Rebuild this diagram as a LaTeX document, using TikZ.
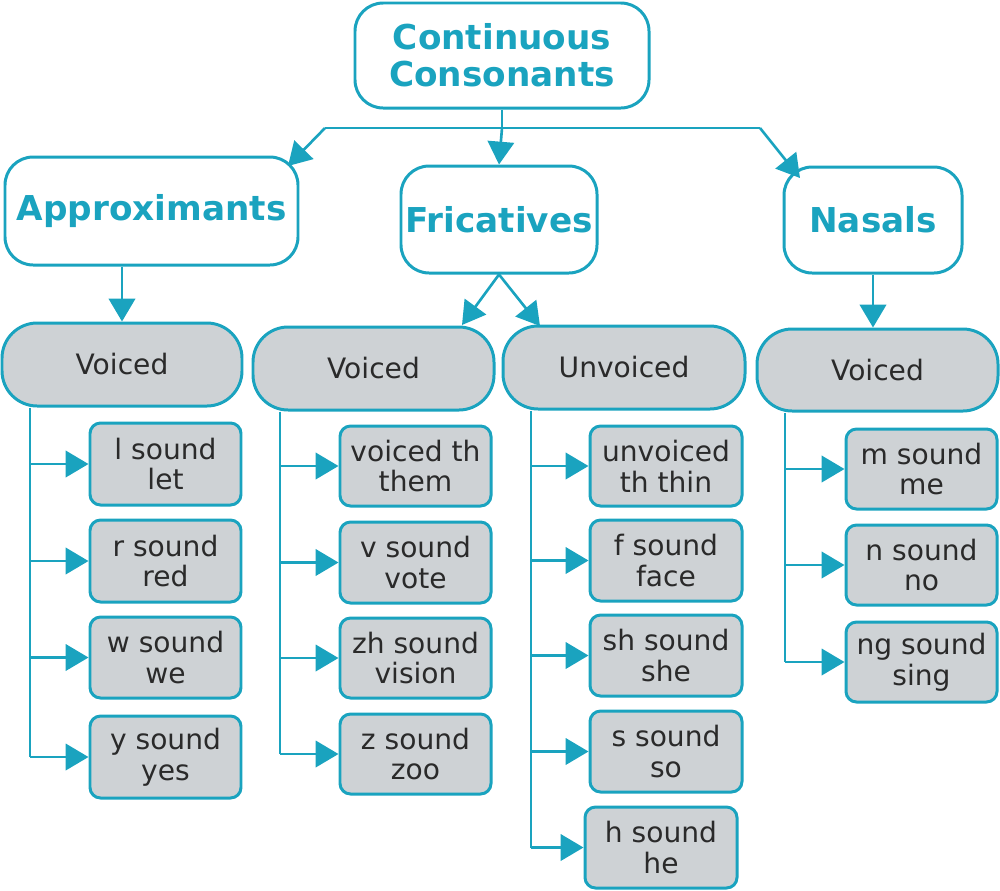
\documentclass[tikz,border=0pt]{standalone}
\usepackage{fontspec}
\setmainfont{DejaVu Sans}
\usetikzlibrary{arrows.meta}
\definecolor{tl}{HTML}{1AA3BF}
\definecolor{gr}{HTML}{CED2D5}
\definecolor{tx}{HTML}{2A2A2A}
\begin{document}
\begin{tikzpicture}[x=0.02cm,y=-0.02cm,
  base/.style={draw=tl,line width=1.7pt,inner sep=0pt,align=center},
  top/.style={base,fill=white,rounded corners=16pt,text=tl,font=\fontsize{19.5}{21}\selectfont\bfseries},
  mid/.style={base,fill=gr,rounded corners=20pt,text=tx,font=\fontsize{16}{18}\selectfont},
  leaf/.style={base,fill=gr,rounded corners=6pt,text=tx,font=\fontsize{16}{17.5}\selectfont},
  ln/.style={draw=tl,line width=1.5pt},
  ar/.style={ln,-{Triangle[length=13pt,width=15pt]}}]
\useasboundingbox (0,0) rectangle (1000,890);
\newcommand\bx[7]{\node[#6,minimum width={(#4-#2)*0.02cm},minimum height={(#5-#3)*0.02cm}] (#1) at ({(#2+#4)/2},{(#3+#5)/2}) {#7};}
\bx{t}{355}{3}{649}{108}{top}{Continuous\\Consonants}
\bx{A}{5}{157}{298}{265}{top}{Approximants}
\bx{F}{401}{166}{597}{273}{top}{Fricatives}
\bx{N}{784}{167}{962}{273}{top}{Nasals}
\bx{AV}{2}{323}{242}{406}{mid}{Voiced}
\bx{FV}{253}{327}{494}{410}{mid}{Voiced}
\bx{FU}{503}{326}{745}{409}{mid}{Unvoiced}
\bx{NV}{757}{329}{998}{411}{mid}{Voiced}
% leaves
\bx{a1}{90}{423}{241}{505}{leaf}{l sound\\let}
\bx{a2}{90}{520}{241}{602}{leaf}{r sound\\red}
\bx{a3}{90}{617}{241}{698}{leaf}{w sound\\we}
\bx{a4}{90}{716}{241}{798}{leaf}{y sound\\yes}
\bx{f1}{340}{426}{491}{506}{leaf}{voiced th\\them}
\bx{f2}{340}{522}{491}{603}{leaf}{v sound\\vote}
\bx{f3}{340}{618}{491}{698}{leaf}{zh sound\\vision}
\bx{f4}{340}{714}{491}{794}{leaf}{z sound\\zoo}
\bx{u1}{590}{426}{742}{506}{leaf}{unvoiced\\th thin}
\bx{u2}{590}{520}{742}{601}{leaf}{f sound\\face}
\bx{u3}{590}{615}{742}{696}{leaf}{sh sound\\she}
\bx{u4}{590}{711}{742}{792}{leaf}{s sound\\so}
\bx{u5}{585}{807}{737}{888}{leaf}{h sound\\he}
\bx{n1}{846}{429}{997}{509}{leaf}{m sound\\me}
\bx{n2}{846}{525}{997}{605}{leaf}{n sound\\no}
\bx{n3}{846}{622}{997}{702}{leaf}{ng sound\\sing}
% top connectors
\coordinate (tl0) at (325,128); \coordinate (tr0) at (760,128);
\coordinate (tm) at (502,128);
\draw[ln] (t.south) -- (tm);
\draw[ln] (tl0) -- (tr0);
\draw[ar] (tl0) -- (288,166);
\draw[ar] (tm) -- (F.north);
\draw[ar] (tr0) -- (800,178);
\draw[ar] (A.south-|122,0) -- (AV.north-|122,0);
\draw[ar] (F.south) -- (462,325);
\draw[ar] (F.south) -- (540,326);
\draw[ar] (N.south) -- (NV.north-|N.south);
% trees
\draw[ln] (AV.south-|30,0) -- (30,0|-a4.west);
\foreach \n in {a1,a2,a3,a4}{\draw[ar] (30,0|-\n.west) -- (\n.west);}
\draw[ln] (FV.south-|280,0) -- (280,0|-f4.west);
\foreach \n in {f1,f2,f3,f4}{\draw[ar] (280,0|-\n.west) -- (\n.west);}
\draw[ln] (FU.south-|531,0) -- (531,0|-u5.west);
\foreach \n in {u1,u2,u3,u4,u5}{\draw[ar] (531,0|-\n.west) -- (\n.west);}
\draw[ln] (NV.south-|785,0) -- (785,0|-n3.west);
\foreach \n in {n1,n2,n3}{\draw[ar] (785,0|-\n.west) -- (\n.west);}
\end{tikzpicture}
\end{document}
